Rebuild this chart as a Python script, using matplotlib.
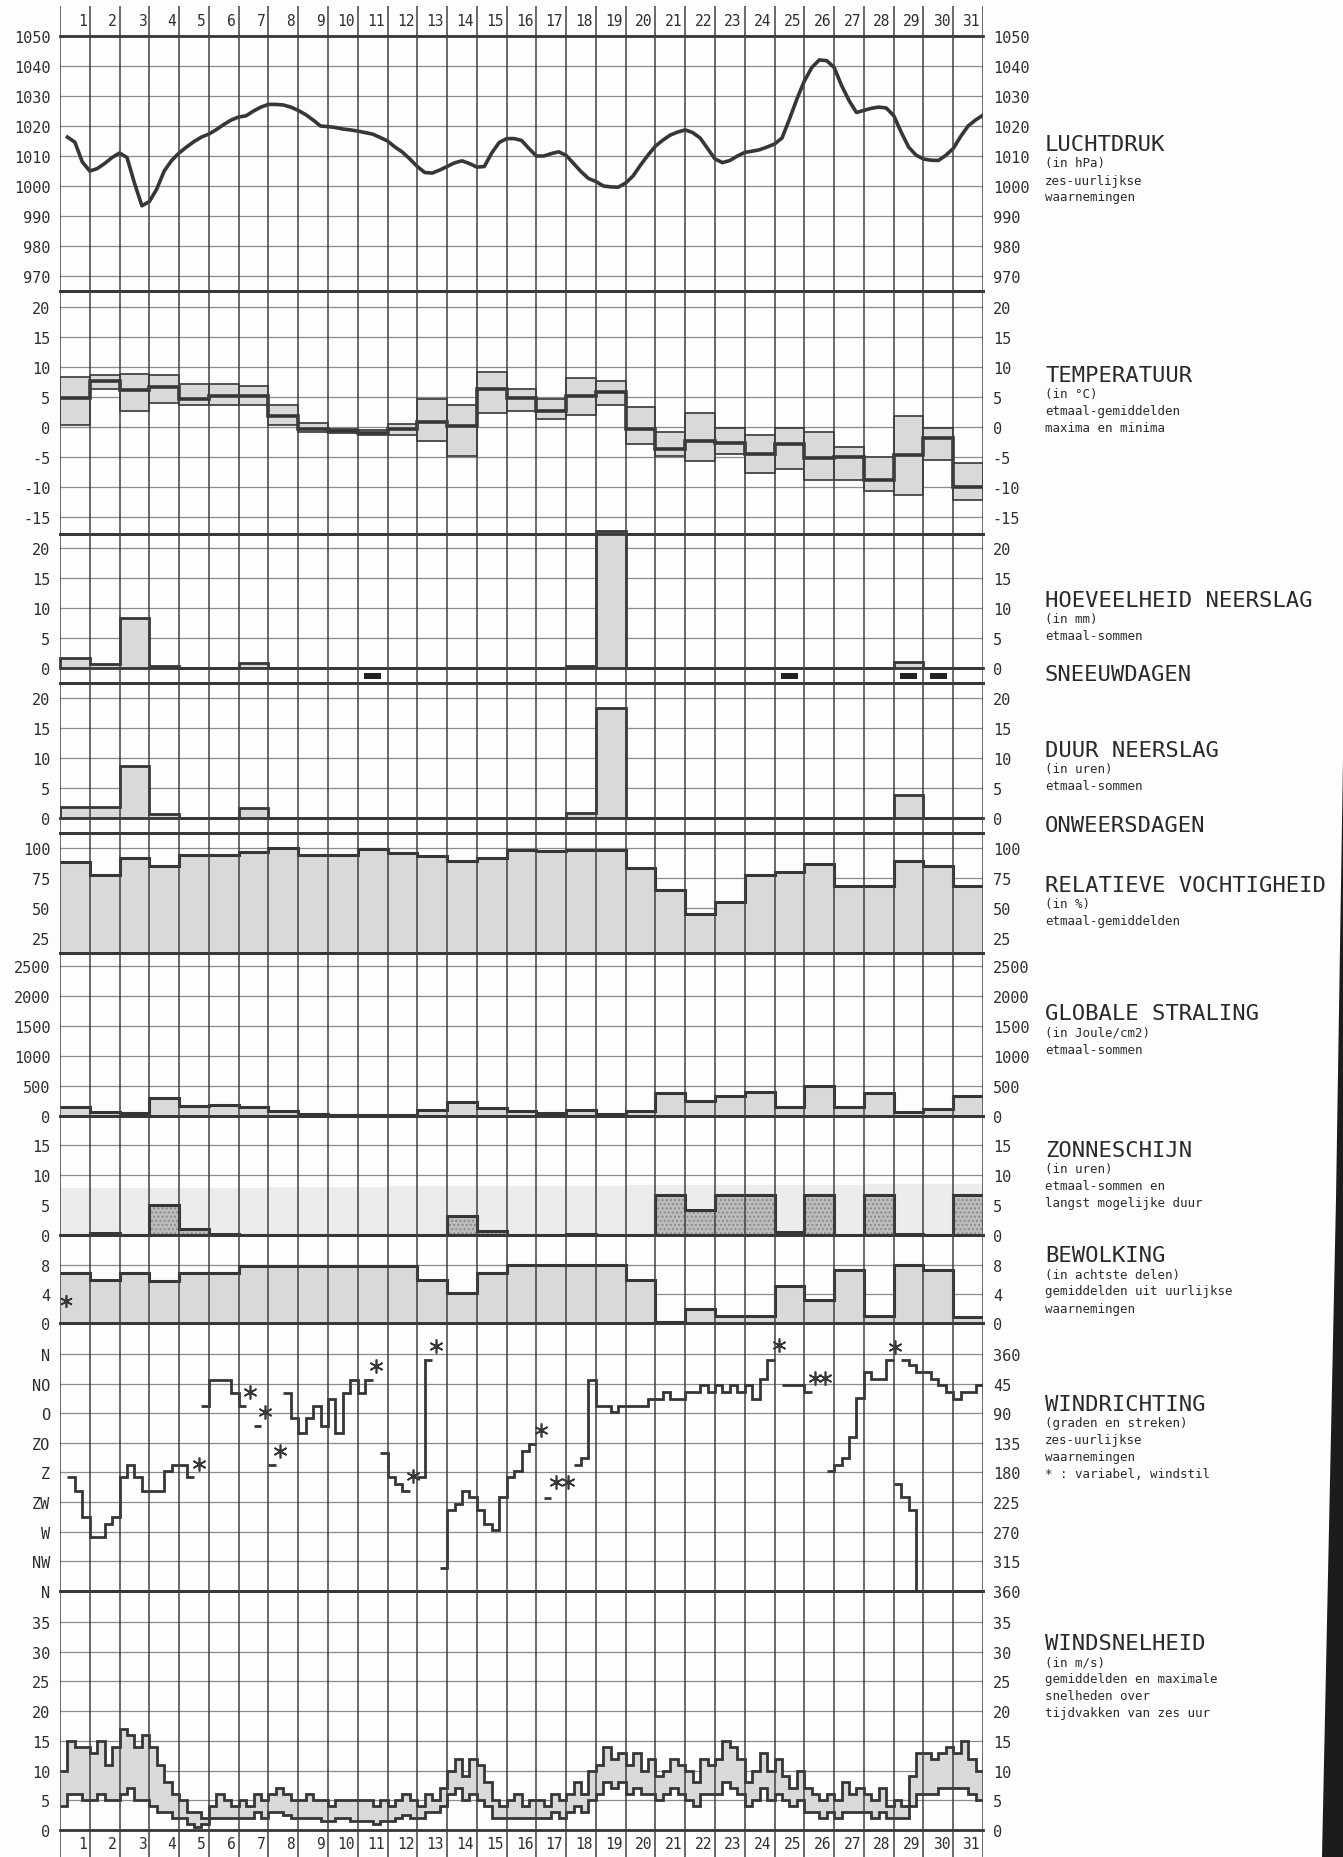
import numpy as np
import matplotlib.pyplot as plt
from matplotlib.patches import Polygon

plt.rcParams['font.family'] = ['DejaVu Sans Mono', 'DejaVu Sans']

nan = np.nan

# ---------------- data ----------------
days = list(range(1, 32))

# luchtdruk, zes-uurlijks (t = 0.25 .. 31.0 dagen)
pressure = [1016.3, 1014.6, 1008.0, 1005.0, 1005.8, 1007.5, 1009.5, 1011.0,
            1009.5, 1001.0, 993.4, 994.8, 999.0, 1005.0, 1008.5, 1011.0,
            1013.0, 1014.8, 1016.3, 1017.3, 1018.8, 1020.5, 1022.0, 1023.0,
            1023.4, 1025.0, 1026.3, 1027.2, 1027.2, 1027.0, 1026.3, 1025.2,
            1023.8, 1022.0, 1020.0, 1019.8, 1019.5, 1019.0, 1018.7, 1018.3,
            1017.8, 1017.3, 1016.2, 1015.0, 1013.0, 1011.3, 1009.0, 1006.5,
            1004.5, 1004.3, 1005.3, 1006.5, 1007.7, 1008.4, 1007.5, 1006.3,
            1006.5, 1011.0, 1014.5, 1015.8, 1015.8, 1015.2, 1012.5, 1010.0,
            1010.0, 1010.8, 1011.4, 1010.2, 1007.5, 1004.8, 1002.5, 1001.5,
            1000.0, 999.7, 999.6, 1001.0, 1003.4, 1007.0, 1010.3, 1013.3,
            1015.3, 1017.0, 1018.0, 1018.7, 1017.8, 1016.0, 1012.5, 1009.0,
            1007.8, 1008.5, 1010.0, 1011.2, 1011.6, 1012.1, 1013.0, 1014.0,
            1016.0, 1022.3, 1029.0, 1035.0, 1039.5, 1042.0, 1041.8, 1039.5,
            1033.5, 1028.5, 1024.5, 1025.2, 1025.9, 1026.3, 1026.0, 1023.5,
            1018.0, 1013.0, 1010.3, 1009.0, 1008.6, 1008.5, 1010.2, 1012.5,
            1016.5, 1020.0, 1022.0, 1023.6]

temp_max = [8.3, 8.6, 8.8, 8.7, 7.2, 7.2, 6.9, 3.7, 0.7, -0.3, -0.5, 0.5,
            4.7, 3.7, 9.1, 6.4, 4.6, 8.1, 7.7, 3.4, -0.8, 2.4, -0.2, -1.4,
            -0.2, -0.8, -3.4, -5.0, 1.9, -0.1, -6.0]
temp_mean = [4.9, 7.6, 6.1, 6.6, 4.7, 5.2, 5.2, 1.9, -0.3, -0.6, -1.0, -0.3,
             0.9, 0.2, 6.3, 4.9, 2.7, 5.2, 5.9, -0.3, -3.7, -2.3, -2.7, -4.5,
             -2.8, -5.2, -5.0, -8.9, -4.7, -1.8, -10.0]
temp_min = [0.3, 6.3, 2.7, 4.0, 3.6, 3.6, 3.6, 0.3, -0.8, -1.0, -1.4, -1.4,
            -2.3, -4.8, 2.4, 2.6, 1.3, 2.0, 3.6, -2.8, -4.8, -5.6, -4.5, -7.6,
            -7.0, -8.9, -8.9, -10.7, -11.4, -5.5, -12.1]

precip = [1.6, 0.7, 8.4, 0.3, 0, 0, 0.8, 0, 0, 0, 0, 0, 0, 0, 0, 0, 0, 0.3,
          22.8, 0, 0, 0, 0, 0, 0, 0, 0, 0, 1.0, 0, 0]
snow_days = [11, 25, 29, 30]
thunder_days = []

precip_hours = [1.9, 1.9, 8.6, 0.7, 0, 0, 1.6, 0, 0, 0, 0, 0, 0, 0, 0, 0, 0,
                0.9, 18.3, 0, 0, 0, 0, 0, 0, 0, 0, 0, 3.8, 0, 0]

humidity = [88, 77.5, 92, 84.7, 94.2, 94.2, 97, 99.7, 94.2, 94.2, 99, 95.5,
            93, 89.4, 91.4, 98.3, 97.5, 98.6, 98.6, 83, 65, 45, 55.3, 77.8,
            79.7, 87, 68.7, 68.7, 89, 84.7, 68.7]

radiation = [145, 62, 50, 300, 172, 183, 145, 88, 33, 25, 17, 17, 105, 238,
             128, 88, 50, 105, 33, 88, 383, 255, 328, 395, 145, 495, 145, 383,
             60, 110, 340]

sunshine = [0, 0.4, 0, 5.0, 1.0, 0.2, 0, 0, 0, 0, 0, 0, 0, 3.1, 0.6, 0, 0,
            0.2, 0, 0, 6.7, 4.2, 6.7, 6.7, 0.5, 6.7, 0, 6.7, 0.2, 0, 6.7]
sun_possible = [7.8, 7.8, 7.8, 7.9, 7.9, 7.9, 7.9, 8.0, 8.0, 8.0, 8.0, 8.1,
                8.1, 8.1, 8.1, 8.2, 8.2, 8.2, 8.2, 8.3, 8.3, 8.3, 8.3, 8.4,
                8.4, 8.4, 8.4, 8.5, 8.5, 8.5, 8.5]

clouds = [6.9, 5.9, 6.9, 5.8, 6.85, 6.85, 7.85, 7.85, 7.85, 7.85, 7.85, 7.85,
          5.9, 4.1, 6.9, 8, 8, 8, 8, 5.9, 0.1, 1.9, 0.9, 0.9, 5.0, 3.1, 7.2,
          1.0, 8.0, 7.3, 0.8]
clouds_star = ([0.2], [3.0])

# windrichting in graden, zes-uurlijks (nan = variabel / windstil)
wind_dir = [nan, 187.5, 207.5, 247.5, 277.5, 277.5, 257.5, 247.5,
            187.5, 168.5, 187.5, 207.5, 207.5, 207.5, 177.5, 168.5,
            168.5, 187.5, nan, 79, 40, 40, 40, 60,
            79, nan, 110, nan, 169, nan, 60, 97.5,
            120, 97.5, 79, 110, 68.5, 120, 60, 40,
            60, 40, nan, 150, 187.5, 197.5, 208.5, nan,
            187.5, 8.5, nan, 325, 237.5, 227.5, 208.5, 217.5,
            237.5, 257.5, 267.5, 217.5, 187.5, 177.5, 147.5, 136.5,
            nan, 219, nan, nan, nan, 169, 158.5, 40,
            79, 79, 88.5, 79, 79, 79, 79, 68.5,
            68.5, 58.5, 68.5, 68.5, 58.5, 58.5, 47.5, 58.5,
            47.5, 58.5, 47.5, 58.5, 47.5, 68.5, 37.5, 8.5,
            nan, 47.5, 47.5, 47.5, 57.5, nan, nan, 177.5,
            168.5, 158.5, 126.5, 67.5, 27.5, 38.5, 38.5, 8.5,
            nan, 8.5, 17.5, 27.5, 27.5, 38.5, 47.5, 58.5,
            68.5, 58.5, 58.5, 47.5]
wind_dir_b = [nan] * 112 + [197.5, 217.5, 237.5, 360] + [nan] * 8
wind_star_x = [4.67, 6.39, 6.88, 7.38, 10.63, 11.85, 12.64, 16.16, 16.67,
               17.06, 24.15, 25.37, 25.71, 28.05]
wind_star_y = [166.5, 57.5, 87.5, 147.5, 18.5, 185, -12.5, 115, 195, 195,
               -13.5, 36.5, 36.5, -10]

# windsnelheid m/s, zes-uurlijks
wind_max = [10, 15, 14, 14, 13, 15, 11, 14, 17, 16, 14, 16, 14, 11, 8, 6,
            5, 3, 3, 2, 4, 6, 5, 4, 5, 4, 6, 5, 6, 7, 6, 5,
            5, 6, 5, 5, 4, 5, 5, 5, 5, 5, 4, 5, 4, 5, 6, 5,
            4, 6, 5, 7, 10, 12, 9, 12, 11, 8, 5, 4, 5, 6, 4, 5,
            5, 4, 6, 5, 6, 8, 6, 10, 11, 14, 12, 13, 11, 13, 10, 12,
            9, 10, 12, 11, 10, 8, 12, 11, 12, 15, 14, 12, 8, 10, 13, 10,
            12, 9, 7, 10, 7, 6, 5, 6, 5, 8, 6, 7, 6, 5, 7, 4,
            5, 4, 9, 13, 13, 12, 13, 14, 13, 15, 12, 10]
wind_mean = [4, 6, 6, 5, 5, 6, 5, 5, 6, 7, 5, 5, 4, 3, 3, 2,
             2, 1, 0.5, 1, 2, 2, 2, 2, 2, 2, 3, 2, 3, 3, 2.5, 2,
             2, 2, 2, 1.5, 1.5, 2, 2, 1.5, 1.5, 1.5, 1, 1.5, 1.5, 2, 2.5, 2,
             2, 3, 3, 4, 6, 7, 5, 6, 5, 4, 2, 2, 2, 2, 2, 2,
             2, 2, 3, 2, 3, 4, 3, 5, 6, 8, 7, 8, 6, 7, 6, 6,
             5, 6, 7, 6, 5, 4, 6, 6, 6, 8, 7, 6, 4, 5, 7, 5,
             6, 5, 4, 5, 3, 3, 2, 3, 2, 3, 3, 3, 3, 2, 3, 2,
             2, 2, 4, 6, 6, 6, 7, 7, 7, 7, 6, 5]

# ---------------- layout (pixels of the 1343 x 1858 sheet) ----------------
W, H = 1343, 1858
X0, X1 = 60, 983
LINE = '#363636'
GRID = '#8c8c8c'
FILL = '#d9d9d9'

fig = plt.figure(figsize=(W / 100, H / 100), dpi=100)
fig.patch.set_facecolor('#fdfdfd')

edges = np.arange(0, 32)
q_edges = np.arange(0, 125) / 4.0


def panel(top, bottom, ylim, ticks, labels, thick=()):
    ax = fig.add_axes([X0 / W, 1 - bottom / H, (X1 - X0) / W, (bottom - top) / H])
    ax.set_xlim(0, 31)
    ax.set_ylim(*ylim)
    ax.patch.set_alpha(0)
    for s in ax.spines.values():
        s.set_visible(False)
    ax.set_xticks([])
    ax.set_yticks(ticks)
    ax.set_yticklabels(labels)
    ax.tick_params(axis='y', length=0, pad=7, labelsize=11, labelcolor='#2e2e2e',
                   labelleft=True, labelright=True)
    for t in ticks:
        ax.axhline(t, color=GRID, lw=0.9, zorder=0.5)
    for t in list(thick) + [ylim[0], ylim[1]]:
        ax.axhline(t, color=LINE, lw=2.0, zorder=5, clip_on=False)
    return ax


# luchtdruk
ax = panel(37, 292, (965, 1050), list(range(970, 1051, 10)),
           [str(v) for v in range(970, 1051, 10)])
ax.plot(np.arange(1, 125) / 4.0, pressure, color=LINE, lw=2.6, zorder=4)

# temperatuur
tt = [-15, -10, -5, 0, 5, 10, 15, 20]
ax = panel(292, 535, (-17.83, 22.67), tt, [str(v) for v in tt])
tmax = np.array(temp_max)
tmin = np.array(temp_min)
ax.bar(np.array(days) - 1, tmax - tmin, bottom=tmin, width=1, align='edge',
       facecolor=FILL, edgecolor=LINE, lw=1.2, zorder=2)
ax.stairs(temp_mean, edges, baseline=None, color=LINE, lw=2.6, zorder=4)

# hoeveelheid neerslag + sneeuwdagen
pt = [0, 5, 10, 15, 20]
ax = panel(535, 684, (-2.5, 22.33), pt, [str(v) for v in pt], thick=[0])
ax.stairs(precip, edges, baseline=0, fill=True, facecolor=FILL, edgecolor='none', zorder=2,
          clip_on=False)
ax.stairs(precip, edges, baseline=0, color=LINE, lw=2.0, zorder=4, clip_on=False)
ax.bar(np.array(snow_days) - 0.5, 1.0, bottom=-1.8, width=0.55, color='#222222', zorder=4)

# duur neerslag + onweersdagen
ax = panel(684, 834, (-2.5, 22.5), pt, [str(v) for v in pt], thick=[0])
ax.stairs(precip_hours, edges, baseline=0, fill=True, facecolor=FILL, edgecolor='none', zorder=2)
ax.stairs(precip_hours, edges, baseline=0, color=LINE, lw=2.0, zorder=4)
if thunder_days:
    ax.bar(np.array(thunder_days) - 0.5, 1.0, bottom=-1.8, width=0.55, color='#222222')

# relatieve vochtigheid
ht = [25, 50, 75, 100]
ax = panel(834, 954, (12.5, 112.5), ht, [str(v) for v in ht])
ax.stairs(humidity, edges, baseline=12.5, fill=True, facecolor=FILL, edgecolor='none', zorder=2)
ax.stairs(humidity, edges, baseline=None, color=LINE, lw=2.2, zorder=4)

# globale straling
rt = [0, 500, 1000, 1500, 2000, 2500]
ax = panel(954, 1117, (0, 2717), rt, [str(v) for v in rt])
ax.stairs(radiation, edges, baseline=0, fill=True, facecolor=FILL, edgecolor='none', zorder=2)
ax.stairs(radiation, edges, baseline=None, color=LINE, lw=2.2, zorder=4)

# zonneschijn
st = [0, 5, 10, 15]
ax = panel(1117, 1236, (0, 19.83), st, [str(v) for v in st])
ax.stairs(sun_possible, edges, baseline=0, fill=True, facecolor='#ececec', edgecolor='none',
          zorder=1)
ax.stairs(sunshine, edges, baseline=0, fill=True, facecolor='#bdbdbd', edgecolor='#8a8a8a',
          hatch='....', lw=0, zorder=2)
ax.stairs(sunshine, edges, baseline=None, color=LINE, lw=2.2, zorder=4)

# bewolking
ct = [0, 4, 8]
ax = panel(1236, 1324, (0, 12.05), ct, [str(v) for v in ct])
ax.stairs(clouds, edges, baseline=0, fill=True, facecolor=FILL, edgecolor='none', zorder=2)
ax.stairs(clouds, edges, baseline=None, color=LINE, lw=2.2, zorder=4)
ax.plot(*clouds_star, ls='none', marker=(6, 2, 0), ms=9, mew=1.2, color=LINE, zorder=5)

# windrichting
dt = [0, 45, 90, 135, 180, 225, 270, 315, 360]
ax = panel(1324, 1592, (360, -47), dt, ['N', 'NO', 'O', 'ZO', 'Z', 'ZW', 'W', 'NW', 'N'])
ax.tick_params(axis='y', labelright=False)
ax2 = ax.twinx()
ax2.set_ylim(360, -47)
ax2.set_yticks(dt)
ax2.set_yticklabels(['360', '45', '90', '135', '180', '225', '270', '315', '360'])
ax2.tick_params(axis='y', length=0, pad=7, labelsize=11, labelcolor='#2e2e2e')
for s in ax2.spines.values():
    s.set_visible(False)
ax.stairs(wind_dir, q_edges, baseline=None, color=LINE, lw=2.0, zorder=4)
ax.stairs(wind_dir_b, q_edges, baseline=None, color=LINE, lw=2.0, zorder=4)
ax.plot(wind_star_x, wind_star_y, ls='none', marker=(6, 2, 0), ms=10, mew=1.2,
        color=LINE, zorder=5, clip_on=False)

# windsnelheid
wt = [0, 5, 10, 15, 20, 25, 30, 35]
ax = panel(1592, 1831, (0, 40.2), wt, [str(v) for v in wt])
ax.stairs(wind_max, q_edges, baseline=wind_mean, fill=True, facecolor=FILL, edgecolor='none',
          zorder=2)
ax.stairs(wind_max, q_edges, baseline=None, color=LINE, lw=2.0, zorder=4)
ax.stairs(wind_mean, q_edges, baseline=None, color=LINE, lw=2.0, zorder=4)

# verticale daglijnen en dagnummers
ov = fig.add_axes([X0 / W, 0, (X1 - X0) / W, 1 - 7 / H])
ov.set_xlim(0, 31)
ov.set_ylim(H, 7)
ov.axis('off')
ov.patch.set_alpha(0)
ov.vlines(edges, 7, H, color='#404040', lw=1.1, zorder=6)
for d in days:
    ov.text(d - 0.1, 22, str(d), ha='right', va='center', fontsize=10.5, color='#2e2e2e')
    ov.text(d - 0.1, 1845, str(d), ha='right', va='center', fontsize=10.5, color='#2e2e2e')

# titels rechts
TX = 1045 / W
titles = [
    (145, 'LUCHTDRUK', ['(in hPa)', 'zes-uurlijkse', 'waarnemingen']),
    (376, 'TEMPERATUUR', ['(in \u00b0C)', 'etmaal-gemiddelden', 'maxima en minima']),
    (601, 'HOEVEELHEID NEERSLAG', ['(in mm)', 'etmaal-sommen']),
    (675, 'SNEEUWDAGEN', []),
    (751, 'DUUR NEERSLAG', ['(in uren)', 'etmaal-sommen']),
    (826, 'ONWEERSDAGEN', []),
    (886, 'RELATIEVE VOCHTIGHEID', ['(in %)', 'etmaal-gemiddelden']),
    (1014, 'GLOBALE STRALING', ['(in Joule/cm2)', 'etmaal-sommen']),
    (1151, 'ZONNESCHIJN', ['(in uren)', 'etmaal-sommen en', 'langst mogelijke duur']),
    (1256, 'BEWOLKING', ['(in achtste delen)', 'gemiddelden uit uurlijkse', 'waarnemingen']),
    (1405, 'WINDRICHTING', ['(graden en streken)', 'zes-uurlijkse', 'waarnemingen',
                            '* : variabel, windstil']),
    (1644, 'WINDSNELHEID', ['(in m/s)', 'gemiddelden en maximale', 'snelheden over',
                            'tijdvakken van zes uur']),
]
for y, head, sub in titles:
    fig.text(TX, 1 - y / H, head, ha='left', va='center', fontsize=16, color='#2a2a2a')
    for i, s in enumerate(sub):
        fig.text(TX, 1 - (y + 19 + i * 17) / H, s, ha='left', va='center', fontsize=9,
                 color='#2a2a2a')

# donkere rand van de scan rechtsonder
edge_shade = Polygon([[1343 / W, 1 - 760 / H], [1336 / W, 1 - 1200 / H],
                      [1322 / W, 0], [1.0, 0]], closed=True, transform=fig.transFigure,
                     facecolor='#1c1c1c', edgecolor='none')
fig.add_artist(edge_shade)

fig.savefig('out.png', dpi=100, facecolor=fig.get_facecolor())
